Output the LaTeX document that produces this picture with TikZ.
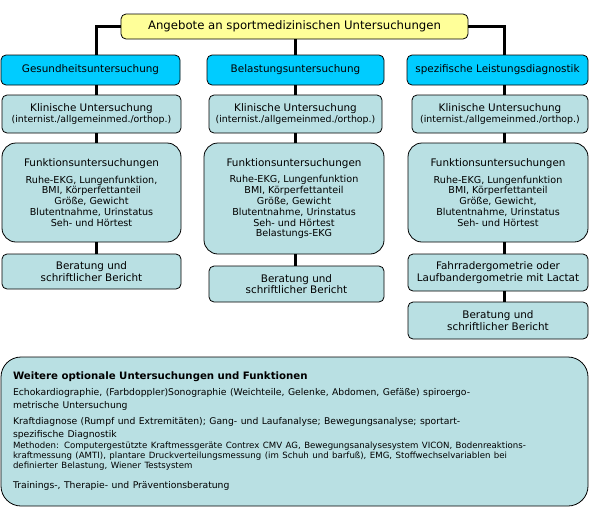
\documentclass[tikz,border=0pt]{standalone}
\usepackage{fontspec}
\setmainfont{DejaVu Sans}
\usepackage{tikz}
\setlength{\parindent}{0pt}

\definecolor{topfill}{HTML}{FFFF99}
\definecolor{headfill}{HTML}{00CCFF}
\definecolor{boxfill}{HTML}{B9E0E3}

\newcommand{\fsTitle}{\fontsize{11.7}{14}\selectfont}
\newcommand{\fsHead}{\fontsize{10.4}{11.5}\selectfont}
\newcommand{\fsSmall}{\fontsize{9.4}{11}\selectfont}
\newcommand{\fsList}{\fontsize{9.6}{10.8}\selectfont}
\newcommand{\fsBold}{\fontsize{10.2}{13}\selectfont\bfseries}
\newcommand{\fsOpt}{\fontsize{9.25}{13}\selectfont}
\newcommand{\fsMeth}{\fontsize{8.6}{10.3}\selectfont}

\tikzset{
	box/.style={draw, line width=0.8pt, fill=boxfill, rounded corners=5pt, inner sep=0pt, align=center, font=\fsHead},
	topbox/.style={box, fill=topfill, font=\fsTitle},
	headbox/.style={box, fill=headfill},
	bigbox/.style={box, rounded corners=14pt},
	link/.style={line width=3pt}
}

\begin{document}
\begin{tikzpicture}[x=1pt, y=-1pt]

	\useasboundingbox (0,0) rectangle (591,509);

	\coordinate (c1) at (96,0);
	\coordinate (c2) at (295,0);
	\coordinate (c3) at (504,0);

	\node[topbox, minimum width=347pt, minimum height=25pt] (top) at (294.5,26.5) {Angebote an sportmedizinischen Untersuchungen};

	\node[headbox, minimum width=179pt, minimum height=30pt] (ges) at (90.5,70) {Gesundheitsuntersuchung};
	\node[headbox, minimum width=177pt, minimum height=30pt] (bel) at (295.5,70) {Belastungsuntersuchung};
	\node[headbox, minimum width=181pt, minimum height=30pt] (spz) at (497.5,70) {spezifische Leistungsdiagnostik};

	\node[box, minimum width=179pt, minimum height=38pt] (kli1) at (91.5,114) {Klinische Untersuchung\\{\fsSmall (internist./allgemeinmed./orthop.)}};
	\node[box, minimum width=173pt, minimum height=38pt] (kli2) at (295.5,114) {Klinische Untersuchung\\{\fsSmall (internist./allgemeinmed./orthop.)}};
	\node[box, minimum width=176pt, minimum height=38pt] (kli3) at (500,114) {Klinische Untersuchung\\{\fsSmall (internist./allgemeinmed./orthop.)}};

	\node[bigbox, font=\fsList, minimum width=179pt, minimum height=99pt] (fkt1) at (91.5,192.5) {{\fsHead Funktionsuntersuchungen}\\[6pt]
		Ruhe-EKG, Lungenfunktion,\\BMI, Körperfettanteil\\Größe, Gewicht\\Blutentnahme, Urinstatus\\Seh- und Hörtest};
	\node[bigbox, font=\fsList, minimum width=180pt, minimum height=111pt] (fkt2) at (294,198.5) {{\fsHead Funktionsuntersuchungen}\\[6pt]
		Ruhe-EKG, Lungenfunktion\\BMI, Körperfettanteil\\Größe, Gewicht\\Blutentnahme, Urinstatus\\Seh- und Hörtest\\Belastungs-EKG};
	\node[bigbox, font=\fsList, minimum width=180pt, minimum height=99pt] (fkt3) at (498,192.5) {{\fsHead Funktionsuntersuchungen}\\[6pt]
		Ruhe-EKG, Lungenfunktion\\BMI, Körperfettanteil\\Größe, Gewicht,\\Blutentnahme, Urinstatus\\Seh- und Hörtest};

	\node[box, minimum width=179pt, minimum height=35pt] (ber1) at (91.5,271.5) {Beratung und\\schriftlicher Bericht};
	\node[box, minimum width=175pt, minimum height=36pt] (ber2) at (296.5,284) {Beratung und\\schriftlicher Bericht};
	\node[box, minimum width=180pt, minimum height=37pt] (erg3) at (498,272.5) {Fahrradergometrie oder\\Laufbandergometrie mit Lactat};
	\node[box, minimum width=180pt, minimum height=37pt] (ber3) at (498,320.5) {Beratung und\\schriftlicher Bericht};

	\node[bigbox, rounded corners=20pt, align=left, inner xsep=12pt, text width=563pt, minimum height=149pt] (opt) at (294.5,431.5) {%
		{\fsBold Weitere optionale Untersuchungen und Funktionen\par}
		\vspace{3pt}
		{\fsOpt Echokardiographie, (Farbdoppler)Sonographie (Weichteile, Gelenke, Abdomen, Gefäße) spiroergo-\\metrische Untersuchung\par}
		\vspace{3pt}
		{\fsOpt Kraftdiagnose (Rumpf und Extremitäten); Gang- und Laufanalyse; Bewegungsanalyse; sportart-\\spezifische Diagnostik\par}
		{\fsMeth Methoden: Computergestützte Kraftmessgeräte Contrex CMV AG, Bewegungsanalysesystem VICON, Bodenreaktions-\\kraftmessung (AMTI), plantare Druckverteilungsmessung (im Schuh und barfuß), EMG, Stoffwechselvariablen bei\\definierter Belastung, Wiener Testsystem\par}
		\vspace{7pt}
		{\fsOpt Trainings-, Therapie- und Präventionsberatung\par}};

	% connectors
	\draw[link] (top.west) -| (c1 |- ges.north);
	\draw[link] (top.east) -| (c3 |- spz.north);
	\draw[link] (top.south -| c2) -- (bel.north -| c2);

	\foreach \a / \b / \c in {
	ges/kli1/c1,
	kli1/fkt1/c1,
	fkt1/ber1/c1,
	bel/kli2/c2,
	kli2/fkt2/c2,
	fkt2/ber2/c2,
	spz/kli3/c3,
	kli3/fkt3/c3,
	fkt3/erg3/c3,
	erg3/ber3/c3}
	{
		\path[link] (\a.south -| \c) edge (\b.north -| \c);
	};
\end{tikzpicture}
\end{document}
